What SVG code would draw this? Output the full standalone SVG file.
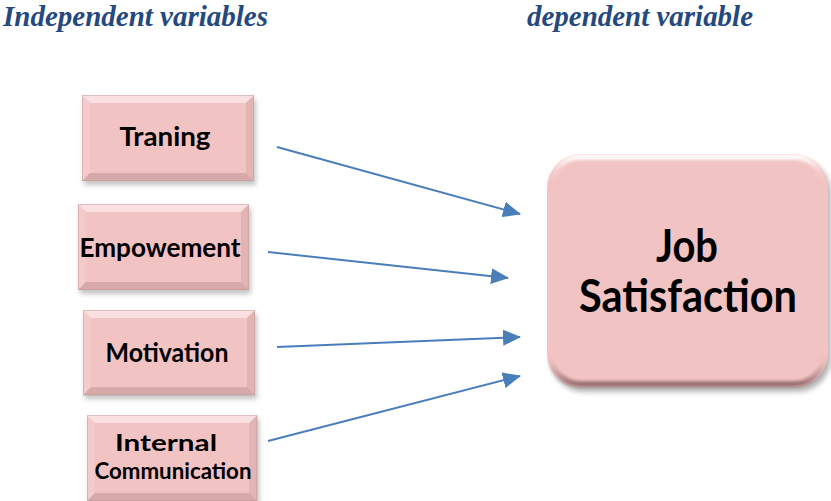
<svg xmlns="http://www.w3.org/2000/svg" xmlns:xlink="http://www.w3.org/1999/xlink" width="831" height="501" viewBox="0 0 831 501">
  <style>
    .title { font-family: "Liberation Serif", "Times New Roman", serif; font-weight: bold; font-style: italic; font-size: 29px; fill: #25497e; }
    .lbl { font-family: Lato, "Open Sans", "Liberation Sans", sans-serif; font-weight: bold; font-size: 26px; fill: #000000; text-anchor: middle; }
    .lbl2 { font-size: 22px; }
    .big { font-family: Lato, "Open Sans", "Liberation Sans", sans-serif; font-weight: bold; font-size: 46px; fill: #000000; text-anchor: middle; }
    .arrow { stroke: #4a7ebb; stroke-width: 2; fill: none; marker-end: url(#head); }
    .face { fill: #f2c3c3; }
    .ftop { fill: #fae0e0; }
    .fleft { fill: #f4caca; }
    .fright { fill: #e2b4b4; }
    .fbot { fill: #d8a9a9; }
  </style>
  <defs>
    <marker id="head" markerUnits="userSpaceOnUse" markerWidth="18" markerHeight="16" refX="17" refY="8" orient="auto" viewBox="0 0 18 16">
      <path d="M0,0 L18,8 L0,16 Z" fill="#4a7ebb"/>
    </marker>
    <filter id="soft" x="-20%" y="-20%" width="140%" height="150%">
      <feGaussianBlur stdDeviation="2.5"/>
    </filter>
    <filter id="rimBlur" x="-10%" y="-10%" width="120%" height="120%">
      <feGaussianBlur stdDeviation="1.6"/>
    </filter>
    <linearGradient id="rim" x1="0" y1="0" x2="0" y2="1">
      <stop offset="0" stop-color="#ffffff" stop-opacity="0.95"/>
      <stop offset="0.12" stop-color="#f2c3c3" stop-opacity="0"/>
      <stop offset="0.86" stop-color="#f2c3c3" stop-opacity="0"/>
      <stop offset="1" stop-color="#8e6666" stop-opacity="0.9"/>
    </linearGradient>
    <!-- bevelled rectangle, 172 x 86, bevel 8 -->
    <g id="bevelBox">
      <rect x="2" y="4" width="172" height="86" fill="#8a8a8a" opacity="0.5" filter="url(#soft)"/>
      <polygon class="face" points="8,8 164,8 164,78 8,78"/>
      <polygon class="ftop" points="0,0 172,0 164,8 8,8"/>
      <polygon class="fleft" points="0,86 0,0 8,8 8,78"/>
      <polygon class="fright" points="172,0 172,86 164,78 164,8"/>
      <polygon class="fbot" points="172,86 0,86 8,78 164,78"/>
      <rect x="0.5" y="0.5" width="171" height="85" fill="none" stroke="#b89494" stroke-width="1" opacity="0.45"/>
    </g>
  </defs>

  <!-- headings -->
  <text class="title" x="3" y="26" textLength="265" lengthAdjust="spacingAndGlyphs">Independent variables</text>
  <text class="title" x="527" y="26" textLength="226" lengthAdjust="spacingAndGlyphs">dependent variable</text>

  <!-- independent variables -->
  <g id="training">
    <use xlink:href="#bevelBox" transform="translate(82,95)"/>
    <text class="lbl" x="165" y="146" textLength="91" lengthAdjust="spacingAndGlyphs">Traning</text>
  </g>
  <g id="empowerment">
    <use xlink:href="#bevelBox" transform="translate(78,204) scale(0.994,1)"/>
    <text class="lbl" x="160" y="257" textLength="161" lengthAdjust="spacingAndGlyphs">Empowement</text>
  </g>
  <g id="motivation">
    <use xlink:href="#bevelBox" transform="translate(83,310) scale(1,0.99)"/>
    <text class="lbl" x="167" y="362" textLength="123" lengthAdjust="spacingAndGlyphs">Motivation</text>
  </g>
  <g id="internal-communication">
    <use xlink:href="#bevelBox" transform="translate(87,415) scale(0.99,1)"/>
    <text class="lbl lbl2" x="166" y="451" textLength="102" lengthAdjust="spacingAndGlyphs">Internal</text>
    <text class="lbl lbl2" x="173" y="479" textLength="157" lengthAdjust="spacingAndGlyphs">Communication</text>
  </g>

  <!-- dependent variable -->
  <g id="job-satisfaction">
    <rect x="550" y="159" width="281" height="233" rx="34" fill="#7a7a7a" opacity="0.55" filter="url(#soft)"/>
    <rect class="face" x="547" y="154" width="281" height="233" rx="34"/>
    <rect x="550" y="157" width="275" height="227" rx="31" fill="none" stroke="url(#rim)" stroke-width="6" filter="url(#rimBlur)"/>
    <text class="big" x="687" y="262" textLength="62" lengthAdjust="spacingAndGlyphs">Job</text>
    <text class="big" x="688" y="312" textLength="218" lengthAdjust="spacingAndGlyphs">Satisfaction</text>
  </g>

  <!-- connectors -->
  <g id="connectors">
    <line class="arrow" x1="277" y1="147" x2="520" y2="214"/>
    <line class="arrow" x1="268" y1="252" x2="508" y2="278"/>
    <line class="arrow" x1="277" y1="347" x2="520" y2="337"/>
    <line class="arrow" x1="268" y1="441" x2="520" y2="376"/>
  </g>
</svg>
